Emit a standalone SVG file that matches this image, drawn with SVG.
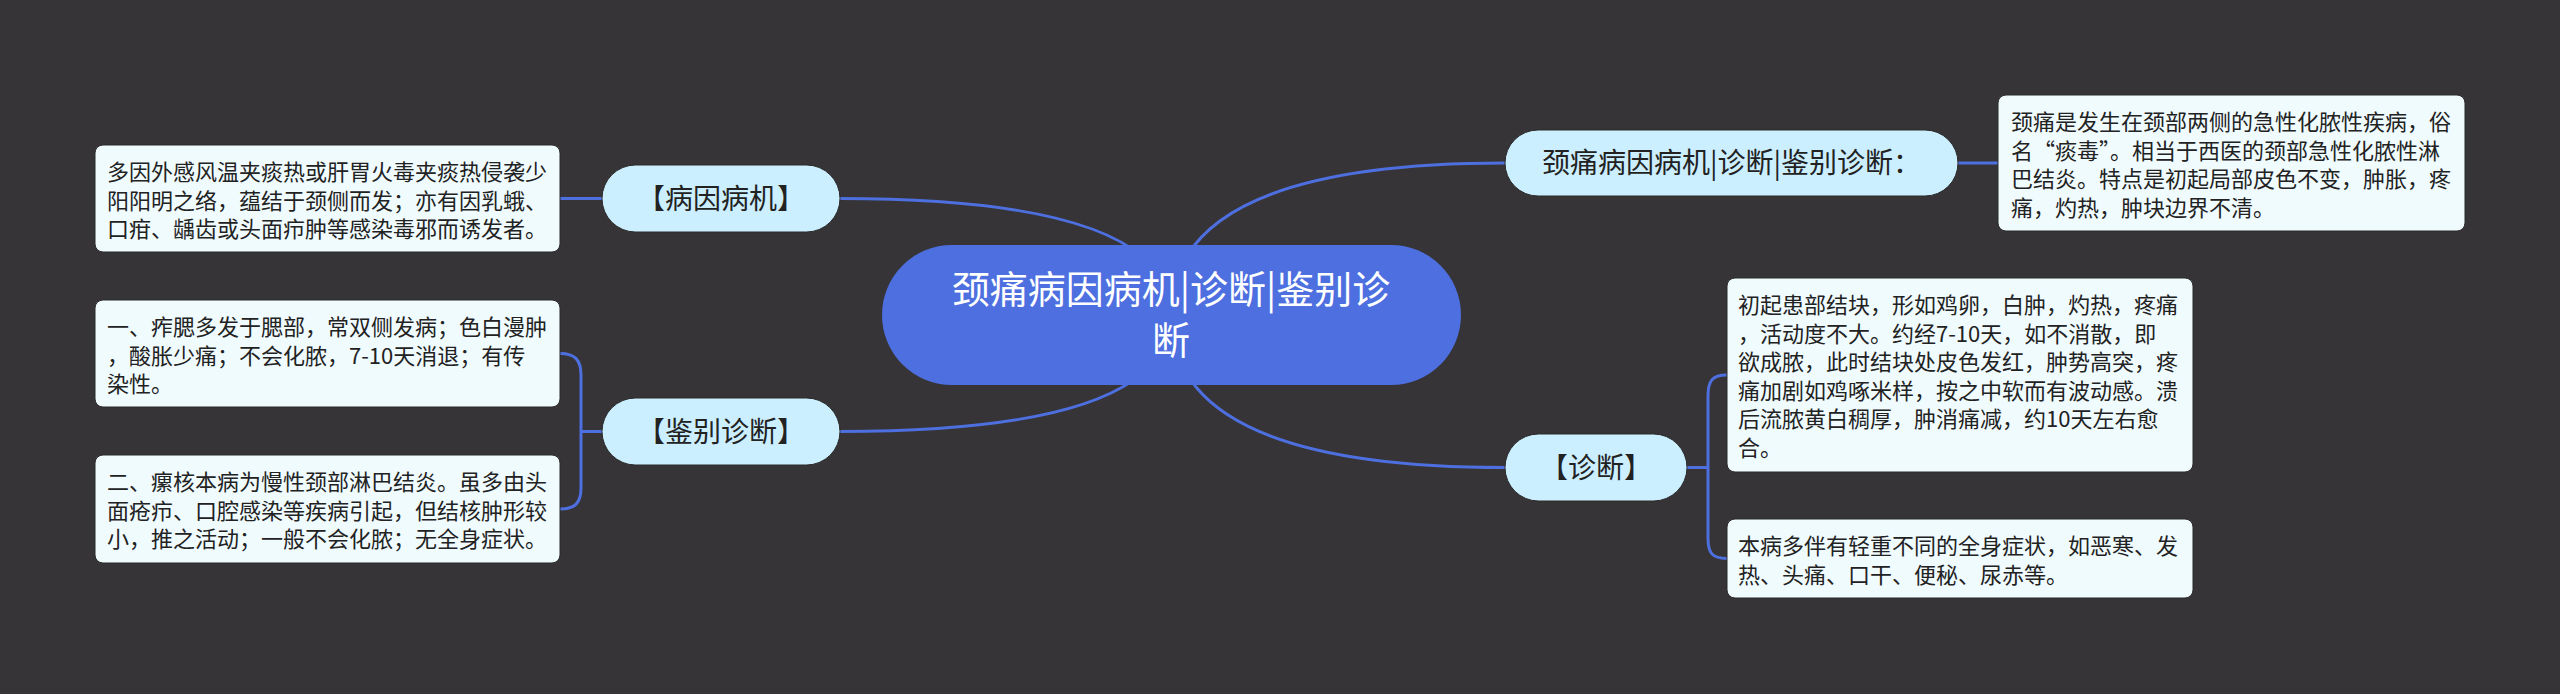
<svg xmlns="http://www.w3.org/2000/svg" width="2560" height="694" viewBox="0 0 2560 694">
<style>
.bg{fill:#363436}
.conn{fill:none;stroke:#4d6fe0;stroke-width:3}
.root{fill:#4d6fe0}
.pill{fill:#ccefff;stroke:#2a2a2a;stroke-width:1}
.leaf{fill:#f0fbfe;stroke:#2a2a2a;stroke-width:1}
text{font-family:"Noto Sans CJK SC","Noto Sans",sans-serif;fill:#222}
.rt{font-size:38px;fill:#ffffff;text-anchor:middle}
.pt{font-size:28px;text-anchor:middle}
.lt{font-size:22px}
</style>
<rect class="bg" x="0" y="0" width="2560" height="694"/>
<g id="connectors">
<path class="conn" d="M1171,315 Q1171,198.5 840,198.5"/>
<path class="conn" d="M1171,315 Q1171,431.5 840,431.5"/>
<path class="conn" d="M1171,315 Q1171,163 1505,163"/>
<path class="conn" d="M1171,315 Q1171,467.5 1505,467.5"/>
<path class="conn" d="M602,198.5 L560,198.5"/>
<path class="conn" d="M602,431.5 L581,431.5"/>
<path class="conn" d="M560,353.5 C575,353.5 581,360 581,375 L581,488 C581,503 575,509 560,509"/>
<path class="conn" d="M1958,163 L1998,163"/>
<path class="conn" d="M1687,467.5 L1708,467.5"/>
<path class="conn" d="M1727,375 C1712,375 1708,381 1708,396 L1708,538 C1708,553 1712,558.5 1727,558.5"/>
</g>
<g id="root">
<rect class="root" x="882" y="245" width="579" height="140" rx="70"/>
<text class="rt" x="1171" y="302.5">颈痛病因病机|诊断|鉴别诊</text>
<text class="rt" x="1171" y="353.5">断</text>
</g>
<g id="n-bingyin">
<rect class="pill" x="602" y="165" width="238" height="67" rx="33.5"/>
<text class="pt" x="721" y="208.5">【病因病机】</text>
</g>
<g id="n-jianbie">
<rect class="pill" x="602" y="398" width="238" height="67" rx="33.5"/>
<text class="pt" x="721" y="441.5">【鉴别诊断】</text>
</g>
<g id="n-title">
<rect class="pill" x="1505" y="130" width="453" height="66" rx="33"/>
<text class="pt" x="1731.5" y="173">颈痛病因病机|诊断|鉴别诊断：</text>
</g>
<g id="n-zhenduan">
<rect class="pill" x="1505" y="434" width="182" height="67" rx="33.5"/>
<text class="pt" x="1596" y="477.5">【诊断】</text>
</g>
<g id="leaf-bingyin">
<rect class="leaf" x="95" y="145" width="465" height="107" rx="8"/>
<text class="lt" x="107" y="180">多因外感风温夹痰热或肝胃火毒夹痰热侵袭少</text>
<text class="lt" x="107" y="208.5">阳阳明之络，蕴结于颈侧而发；亦有因乳蛾、</text>
<text class="lt" x="107" y="237">口疳、龋齿或头面疖肿等感染毒邪而诱发者。</text>
</g>
<g id="leaf-jianbie-1">
<rect class="leaf" x="95" y="300" width="465" height="107" rx="8"/>
<text class="lt" x="107" y="335">一、痄腮多发于腮部，常双侧发病；色白漫肿</text>
<text class="lt" x="107" y="363.5">，酸胀少痛；不会化脓，7-10天消退；有传</text>
<text class="lt" x="107" y="392">染性。</text>
</g>
<g id="leaf-jianbie-2">
<rect class="leaf" x="95" y="455" width="465" height="108" rx="8"/>
<text class="lt" x="107" y="490">二、瘰核本病为慢性颈部淋巴结炎。虽多由头</text>
<text class="lt" x="107" y="518.5">面疮疖、口腔感染等疾病引起，但结核肿形较</text>
<text class="lt" x="107" y="547">小，推之活动；一般不会化脓；无全身症状。</text>
</g>
<g id="leaf-title">
<rect class="leaf" x="1998" y="95" width="467" height="136" rx="8"/>
<text class="lt" x="2011" y="130">颈痛是发生在颈部两侧的急性化脓性疾病，俗</text>
<text class="lt" x="2011" y="158.5">名“痰毒”。相当于西医的颈部急性化脓性淋</text>
<text class="lt" x="2011" y="187">巴结炎。特点是初起局部皮色不变，肿胀，疼</text>
<text class="lt" x="2011" y="215.5">痛，灼热，肿块边界不清。</text>
</g>
<g id="leaf-zhenduan-1">
<rect class="leaf" x="1727" y="278" width="466" height="194" rx="8"/>
<text class="lt" x="1738" y="313">初起患部结块，形如鸡卵，白肿，灼热，疼痛</text>
<text class="lt" x="1738" y="341.5">，活动度不大。约经7-10天，如不消散，即</text>
<text class="lt" x="1738" y="370">欲成脓，此时结块处皮色发红，肿势高突，疼</text>
<text class="lt" x="1738" y="398.5">痛加剧如鸡啄米样，按之中软而有波动感。溃</text>
<text class="lt" x="1738" y="427">后流脓黄白稠厚，肿消痛减，约10天左右愈</text>
<text class="lt" x="1738" y="455.5">合。</text>
</g>
<g id="leaf-zhenduan-2">
<rect class="leaf" x="1727" y="519" width="466" height="79" rx="8"/>
<text class="lt" x="1738" y="554">本病多伴有轻重不同的全身症状，如恶寒、发</text>
<text class="lt" x="1738" y="582.5">热、头痛、口干、便秘、尿赤等。</text>
</g>
</svg>
